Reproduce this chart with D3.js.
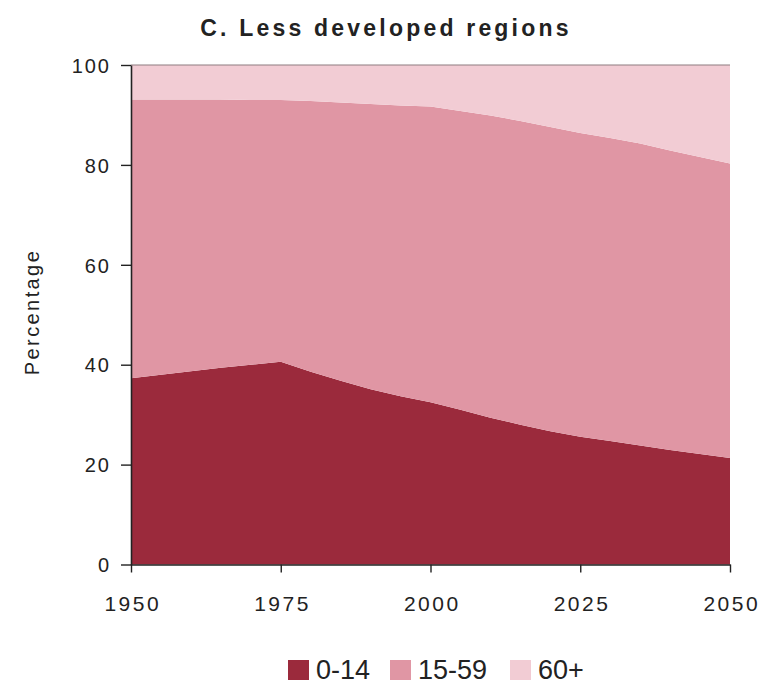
<!DOCTYPE html>
<html>
<head>
<meta charset="utf-8">
<script src="https://cdn.jsdelivr.net/npm/d3@7"></script>
<style>
  html, body { margin: 0; padding: 0; background: #fff; }
  svg { display: block; font-family: "Liberation Sans", Arial, sans-serif; }
</style>
</head>
<body>
<svg id="chart" width="773" height="684"></svg>
<script>
// Population by broad age group, less developed regions (per cent of total)
const years = [1950, 1955, 1960, 1965, 1970, 1975, 1980, 1985, 1990, 1995, 2000,
               2005, 2010, 2015, 2020, 2025, 2030, 2035, 2040, 2045, 2050];
const age0to14 = [37.3, 38.0, 38.7, 39.4, 40.0, 40.6, 38.6, 36.8, 35.1, 33.7, 32.5,
                  31.0, 29.4, 28.0, 26.7, 25.6, 24.7, 23.8, 22.9, 22.1, 21.3];
const age15to59 = [55.8, 55.1, 54.4, 53.7, 53.0, 52.4, 54.2, 55.7, 57.1, 58.2, 59.2,
                   59.8, 60.5, 60.8, 60.9, 60.8, 60.7, 60.5, 60.0, 59.5, 59.0];
const age60plus = [6.9, 6.9, 6.9, 6.9, 7.0, 7.0, 7.2, 7.5, 7.8, 8.1, 8.3,
                   9.2, 10.1, 11.2, 12.4, 13.6, 14.6, 15.7, 17.1, 18.4, 19.7];

const groups = ["0-14", "15-59", "60+"];
const colors = ["#9b2a3c", "#e096a4", "#f2ccd4"];
const xTicks = [1950, 1975, 2000, 2025, 2050];
const yTicks = [0, 20, 40, 60, 80, 100];

const rows = years.map((yr, i) => ({
  year: yr,
  "0-14": age0to14[i],
  "15-59": age15to59[i],
  "60+": age60plus[i]
}));

const svg = d3.select("#chart");
const x = d3.scaleLinear().domain([1950, 2050]).range([131, 730]);
const y = d3.scaleLinear().domain([0, 100]).range([564.5, 65]);
const color = d3.scaleOrdinal().domain(groups).range(colors);

// Stacked areas
const series = d3.stack().keys(groups)(rows);
const area = d3.area()
  .x(d => x(d.data.year))
  .y0(d => y(d[0]))
  .y1(d => y(d[1]));

svg.append("g").selectAll("path")
  .data(series)
  .join("path")
  .attr("fill", d => color(d.key))
  .attr("d", area);

// Thin top border of the plot
svg.append("line")
  .attr("x1", x(1950)).attr("x2", x(2050))
  .attr("y1", y(100)).attr("y2", y(100))
  .attr("stroke", "#8e7c80").attr("stroke-width", 1.2);

// Y axis
const yAxis = svg.append("g")
  .attr("transform", `translate(${x(1950)},0)`)
  .call(d3.axisLeft(y).tickValues(yTicks).tickSize(10).tickPadding(12).tickSizeOuter(0));
yAxis.select(".domain").attr("stroke", "#222").attr("stroke-width", 1.6);
yAxis.selectAll(".tick line").attr("stroke", "#222").attr("stroke-width", 1.4);
yAxis.selectAll(".tick text")
  .attr("fill", "#222")
  .style("font-size", "20px")
  .style("letter-spacing", "2px")
  .attr("dx", "2px")
  .attr("dy", "0.36em");

// X axis
const xAxis = svg.append("g")
  .attr("transform", `translate(0,${y(0)})`)
  .call(d3.axisBottom(x).tickValues(xTicks).tickFormat(d3.format("d")).tickSize(8).tickSizeOuter(0));
xAxis.select(".domain").attr("stroke", "#222").attr("stroke-width", 1.6);
xAxis.selectAll(".tick line").attr("stroke", "#222").attr("stroke-width", 1.4);
xAxis.selectAll(".tick text")
  .attr("fill", "#222")
  .style("font-size", "21px")
  .style("letter-spacing", "2.5px")
  .attr("dx", "1.25px")
  .attr("y", 46)
  .attr("dy", 0);

// Axis title
svg.append("text")
  .attr("transform", "translate(39,312) rotate(-90)")
  .attr("text-anchor", "middle")
  .attr("fill", "#222")
  .style("font-size", "20px")
  .style("letter-spacing", "2.4px")
  .text("Percentage");

// Chart title
svg.append("text")
  .attr("x", 386).attr("y", 36)
  .attr("text-anchor", "middle")
  .attr("fill", "#222")
  .style("font-size", "23px")
  .style("font-weight", "bold")
  .style("letter-spacing", "3.2px")
  .text("C. Less developed regions");

// Legend
const legendItems = [
  { key: "0-14", x: 288 },
  { key: "15-59", x: 390 },
  { key: "60+", x: 510 }
];
const legend = svg.append("g");
legendItems.forEach(item => {
  legend.append("rect")
    .attr("x", item.x).attr("y", 660)
    .attr("width", 21).attr("height", 20)
    .attr("fill", color(item.key));
  legend.append("text")
    .attr("x", item.x + 28).attr("y", 679)
    .attr("fill", "#222")
    .style("font-size", "27px")
    .text(item.key);
});
</script>
</body>
</html>
